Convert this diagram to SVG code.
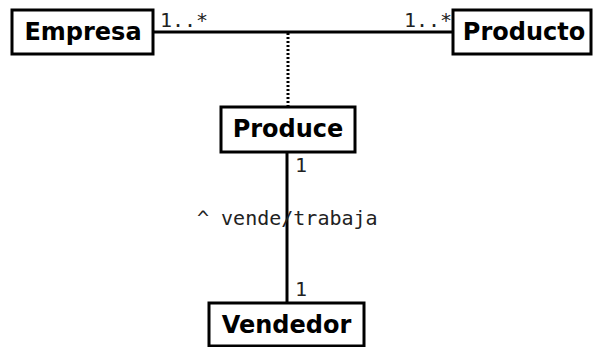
<svg xmlns="http://www.w3.org/2000/svg" width="594" height="347" viewBox="0 0 594 347">
<style>
.box{fill:#fff;stroke:#000;stroke-width:3}
.title{font-family:"DejaVu Sans",sans-serif;font-weight:bold;font-size:24px;fill:#000;text-anchor:middle}
.lbl{font-family:"DejaVu Sans Mono",monospace;font-size:20px;fill:#222}
.ln{stroke:#000;stroke-width:3;fill:none}
</style>
<rect width="594" height="347" fill="#fff"/>
<g id="connectors">
<line class="ln" x1="153" y1="32" x2="453" y2="32"/>
<line class="ln" x1="288" y1="33" x2="288" y2="106" stroke-dasharray="2 2"/>
<line class="ln" x1="287" y1="152" x2="287" y2="303"/>
<text class="lbl" x="160" y="27">1..*</text>
<text class="lbl" x="404" y="27">1..*</text>
<text class="lbl" x="295" y="172">1</text>
<text class="lbl" x="295" y="296">1</text>
<text class="lbl" x="197" y="225">^ vende/trabaja</text>
</g>
<g id="Empresa">
<rect class="box" x="12" y="10" width="141" height="44"/>
<text class="title" x="83" y="40">Empresa</text>
</g>
<g id="Producto">
<rect class="box" x="453" y="10" width="138" height="44"/>
<text class="title" x="524" y="40">Producto</text>
</g>
<g id="Produce">
<rect class="box" x="221" y="107" width="134" height="45"/>
<text class="title" x="288" y="137">Produce</text>
</g>
<g id="Vendedor">
<rect class="box" x="209" y="303" width="155" height="43"/>
<text class="title" x="286.5" y="333">Vendedor</text>
</g>
</svg>
